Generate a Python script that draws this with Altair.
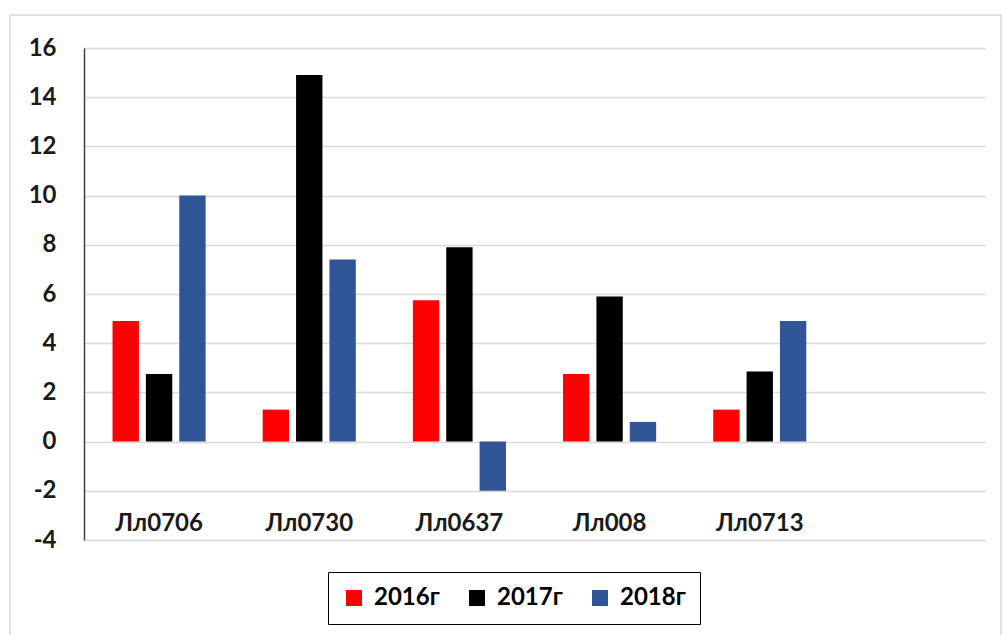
import altair as alt
import pandas as pd

categories = ["Лл0706", "Лл0730", "Лл0637", "Лл008", "Лл0713"]
years = ["2016г", "2017г", "2018г"]
v2016 = [4.9, 1.3, 5.75, 2.75, 1.3]
v2017 = [2.75, 14.9, 7.9, 5.9, 2.85]
v2018 = [10.0, 7.4, -2.0, 0.8, 4.9]
colors = ["#FF0000", "#000000", "#2F5597"]
y_ticks = [-4, -2, 0, 2, 4, 6, 8, 10, 12, 14, 16]

rows = []
for i, c in enumerate(categories):
    for y, vals in zip(years, [v2016, v2017, v2018]):
        rows.append({"cat": c, "year": y, "value": vals[i]})
df = pd.DataFrame(rows)
lab = pd.DataFrame({"cat": categories})

FONT = "Lato"
x_scale = alt.Scale(domain=categories + [" "], paddingInner=0.38, paddingOuter=0.19)
y_scale = alt.Scale(domain=[-4, 16], nice=False)

bars = alt.Chart(df).mark_bar().encode(
    x=alt.X("cat:N", scale=x_scale, axis=None, sort=None),
    xOffset=alt.XOffset("year:N", scale=alt.Scale(domain=years, paddingInner=0.21, paddingOuter=0)),
    y=alt.Y("value:Q", scale=y_scale,
            axis=alt.Axis(values=y_ticks, title=None, labelFont=FONT, labelFontSize=24,
                          labelFontWeight="bold", labelColor="#1a1a1a", labelPadding=28,
                          labelExpr="'' + datum.value",
                          ticks=False, domainColor="#404040", domainWidth=1.5,
                          gridColor="#d9d9d9", gridWidth=1.5)),
    color=alt.Color("year:N", scale=alt.Scale(domain=years, range=colors),
                    legend=alt.Legend(title=None, orient="none", legendX=244, legendY=524,
                                      direction="horizontal", symbolType="square",
                                      symbolSize=256, symbolStrokeWidth=0,
                                      labelFont=FONT, labelFontSize=24, labelFontWeight="bold",
                                      labelColor="#000000", strokeColor="#000000",
                                      padding=14, columnPadding=25, labelOffset=8)),
)

labels = alt.Chart(lab).mark_text(font=FONT, fontSize=24, fontWeight="bold",
                                  color="#1a1a1a", baseline="middle").encode(
    x=alt.X("cat:N", scale=x_scale, axis=None, sort=None),
    y=alt.datum(-3.35),
    text=alt.Text("cat:N"),
)

frame = alt.Chart(alt.Data(values=[{}])).mark_rect(fill=None, stroke="#d9d9d9", strokeWidth=1.5).encode(
    x=alt.value(-74), x2=alt.value(917), y=alt.value(-33), y2=alt.value(600)
)

chart = alt.layer(frame, bars, labels).properties(
    width=901, height=492,
    autosize=alt.AutoSizeParams(type="none"),
    padding={"left": 84, "top": 48, "right": 21, "bottom": 95},
).configure_view(stroke=None)

chart.save("out.html", embed_options={"renderer": "svg", "actions": False})
